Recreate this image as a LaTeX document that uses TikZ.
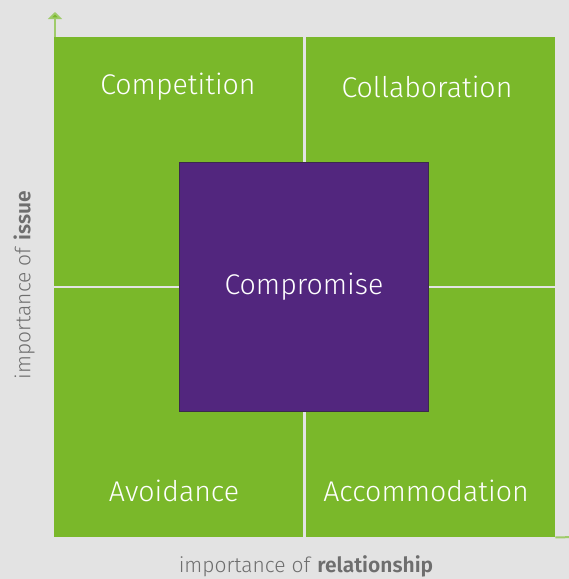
\documentclass[tikz,border=0pt]{standalone}
\usepackage{fontspec}
\setmainfont{Fira Sans Light}[BoldFont={Fira Sans SemiBold}]
\usetikzlibrary{positioning,arrows.meta}

\definecolor{quadgreen}{HTML}{7AB82A}
\definecolor{midpurple}{HTML}{52267E}
\definecolor{edgepurple}{HTML}{3B2A4C}
\definecolor{backgray}{HTML}{E3E3E3}
\definecolor{labelgray}{HTML}{6E6E6E}
\definecolor{axisgreen}{HTML}{9FCB6A}

\begin{document}
\begin{tikzpicture}[x=1pt,y=-1pt,
    quad/.style={fill=quadgreen,minimum size=249pt,inner sep=0pt,anchor=north west},
    quadlabel/.style={text=white,font=\fontsize{28.5}{32}\selectfont},
    axislabel/.style={text=labelgray,font=\fontsize{21}{25}\selectfont}]
    % Background
    \fill[backgray] (0,0) rectangle (569,579);
    \useasboundingbox (0,0) rectangle (569,579);

    % Quadrants
    \node[quad] (tl) at (54,37) {};
    \node[quad] (tr) at (306,37) {};
    \node[quad] (bl) at (54,288) {};
    \node[quad] (br) at (306,288) {};

    % Axes
    \coordinate (ytip) at (55,12);
    \coordinate (xtip) at (580,537);
    \draw[axisgreen,line width=2pt,-{Triangle[width=14pt,length=7pt,fill=quadgreen]}]
      (tl.north west) ++(1,0) -- (ytip);
    \draw[axisgreen,line width=2pt] (br.south east) -- (xtip);

    % Labels
    \node[quadlabel] (competition) at (178,87) {Competition};
    \node[quadlabel] (collaboration) at (427,87) {Collaboration};
    \node[quadlabel] (avoidance) at (174,491) {Avoidance};
    \node[quadlabel] (accommodation) at (426,491) {Accommodation};

    % Middle square
    \node[fill=midpurple,draw=edgepurple,line width=1pt,minimum size=249pt,
      inner sep=0pt,text=white,font=\fontsize{28.5}{32}\selectfont]
      (compromise) at (304,286.5) {Compromise};

    % Axis labels
    \node[axislabel,rotate=90] (issue) at (24,285) {importance of \textbf{issue}};
    \node[axislabel] (relationship) at (306,566) {importance of \textbf{relationship}};
\end{tikzpicture}
\end{document}
